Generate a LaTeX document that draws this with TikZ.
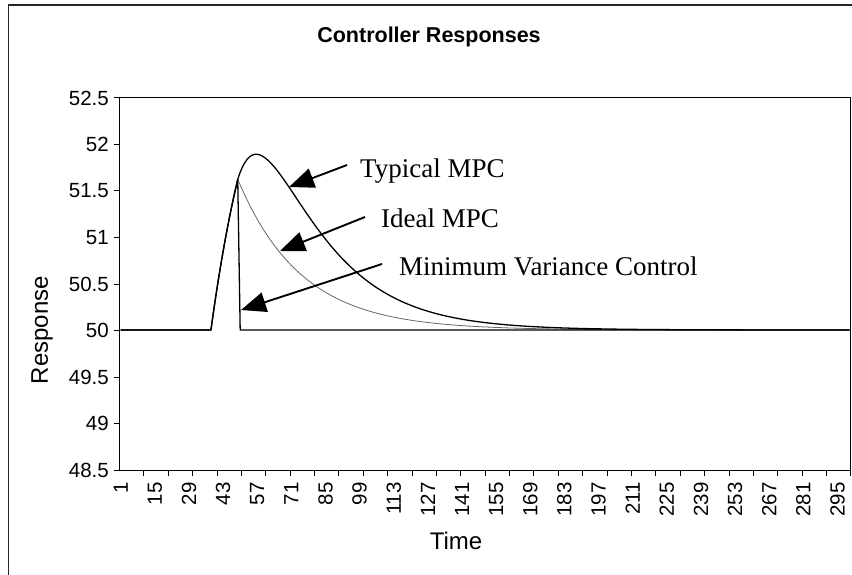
\documentclass[tikz,border=0pt]{standalone}
\usepackage{fontspec}
\setmainfont{Liberation Sans}
\newfontfamily\annfont{Liberation Serif}
\usetikzlibrary{arrows.meta}

% category index -> horizontal position
\newcommand{\catx}[1]{119.5+(#1-0.5)*2.438}

\begin{document}
\begin{tikzpicture}[x=1pt,y=-1pt,
  frameline/.style={line width=1.6pt, draw=black!85},
  axisline/.style={line width=1pt, draw=black},
  tickmark/.style={line width=1pt, draw=black},
  ylab/.style={anchor=east, inner sep=0pt, font=\fontsize{20.5}{20.5}\selectfont},
  xlab/.style={anchor=east, rotate=90, inner sep=0pt, font=\fontsize{20.5}{20.5}\selectfont},
  axtitle/.style={inner sep=0pt, font=\fontsize{24}{24}\selectfont},
  charttitle/.style={inner sep=0pt, font=\bfseries\fontsize{21.5}{21.5}\selectfont},
  ann/.style={inner sep=0pt, font=\annfont\fontsize{27}{27}\selectfont},
  blackseries/.style={line width=1.3pt, draw=black, line join=round},
  grayseries/.style={line width=0.8pt, draw=black!60, line join=round},
  ptr/.style={line width=1.9pt, -{Triangle[length=25pt,width=20pt]}}
]
\useasboundingbox (0,0) rectangle (852,575);
\fill[white] (0,0) rectangle (852,575);

% outer chart frame (top and left edges)
\draw[frameline] (8.5,575) -- (8.5,5.3) -- (852,5.3);

% title
\node[charttitle] (ttl) at (429,37) {Controller Responses};

% plot area border and axes
\draw[axisline] (119.5,98) -- (850,98) -- (850,470);
\draw[axisline] (119.5,98) -- (119.5,470) -- (850,470);

% vertical axis ticks and labels
\foreach \i/\lab in {0/52.5,1/52,2/51.5,3/51,4/50.5,5/50,6/49.5,7/49,8/48.5}{
  \draw[tickmark] (113.5,98+46.5*\i) -- (119.5,98+46.5*\i);
  \node[ylab] (yl\i) at (109,98+46.5*\i) {\lab};
}

% horizontal axis ticks (every 10 categories) and labels (every 14)
\foreach \k in {1,...,30}{
  \draw[tickmark] (119.5+24.38*\k,470) -- (119.5+24.38*\k,476);
}
\foreach \t in {1,15,...,295}{
  \node[xlab] (xl\t) at ({\catx{\t}},482) {\t};
}

% axis titles
\node[axtitle, rotate=90] (ytitle) at (42,330) {Response};
\node[axtitle] (xtitle) at (456,541) {Time};

% Ideal MPC
\draw[grayseries] ({\catx{1}},330) -- ({\catx{38}},330)
  -- plot[domain=38:49, samples=12] ({\catx{\x}},{330-93*3.83*(1-exp(-(\x-38)/20))})
  -- plot[domain=49:300, samples=252] ({\catx{\x}},{330-93*1.62*exp(-(\x-49)/26)});

% Typical MPC
\draw[blackseries] ({\catx{1}},330) -- ({\catx{38}},330)
  -- plot[domain=38:49, samples=12] ({\catx{\x}},{330-93*3.83*(1-exp(-(\x-38)/20))})
  -- plot[domain=49:300, samples=252] ({\catx{\x}},{330-93*(4.63*exp(-(\x-49)/25)-3.01*exp(-(\x-49)/11.2))});

% Minimum Variance Control
\draw[blackseries] ({\catx{1}},330) -- ({\catx{38}},330)
  -- plot[domain=38:49, samples=12] ({\catx{\x}},{330-93*3.83*(1-exp(-(\x-38)/20))})
  -- ({\catx{50}},330) -- ({\catx{300}},330);

% annotations
\node[ann, anchor=base west] (typ) at (360,178) {Typical MPC};
\node[ann, anchor=base west] (idl) at (381,228) {Ideal MPC};
\node[ann, anchor=base west] (mvc) at (399,275) {Minimum Variance Control};

\coordinate (typtip) at (289,187);
\coordinate (idltip) at (280,251);
\coordinate (mvctip) at (241,310);

\draw[ptr] ([xshift=-13pt,yshift=13pt]typ.base west) -- (typtip);
\draw[ptr] ([xshift=-16pt,yshift=11pt]idl.base west) -- (idltip);
\draw[ptr] ([xshift=-17pt,yshift=11pt]mvc.base west) -- (mvctip);
\end{tikzpicture}
\end{document}
